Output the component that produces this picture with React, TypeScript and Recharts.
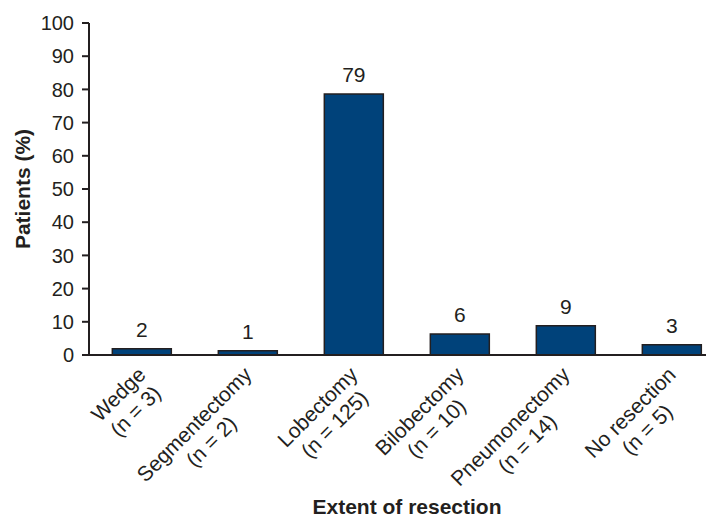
import React from 'react';
import { BarChart, Bar, XAxis, YAxis, LabelList } from 'recharts';

// extent of resection, n per group, % of patients (bar heights) and printed labels
const categories = ['Wedge', 'Segmentectomy', 'Lobectomy', 'Bilobectomy', 'Pneumonectomy', 'No resection'];
const counts = [3, 2, 125, 10, 14, 5];
const percents = [1.9, 1.3, 78.6, 6.3, 8.8, 3.1];
const percentLabels = ['2', '1', '79', '6', '9', '3'];
const yTicks = [0, 10, 20, 30, 40, 50, 60, 70, 80, 90, 100];

const data = categories.map((name, i) => ({
  name,
  value: percents[i],
  label: percentLabels[i],
}));

const INK = '#231f20';
const BLUE = '#00427a';
const FONT = '"Liberation Sans", Arial, Helvetica, sans-serif';
const TICK_FS = 20;
const X_TICK_FS = 21;

const ctx = typeof document !== 'undefined' ? document.createElement('canvas').getContext('2d') : null;
function textWidth(s: string, size: number) {
  if (!ctx) return s.length * size * 0.55;
  ctx.font = `${size}px ${FONT}`;
  return ctx.measureText(s).width;
}

// two-line rotated category label, lines centred, block ending at the bar centre
const XTick = (props: any) => {
  const { x, payload } = props;
  const i = categories.indexOf(payload.value);
  const lines = [payload.value, `(n = ${counts[i]})`];
  const w = Math.max(...lines.map((l) => textWidth(l, X_TICK_FS)));
  const lh = X_TICK_FS * 1.15;
  return (
    <g transform={`translate(${x - 7},${356}) rotate(-45)`}>
      {lines.map((l, k) => (
        <text
          key={k}
          x={-w / 2}
          y={X_TICK_FS * 0.8 + k * lh}
          textAnchor="middle"
          fill={INK}
          fontSize={X_TICK_FS}
          fontFamily={FONT}
        >
          {l}
        </text>
      ))}
    </g>
  );
};

export default function App() {
  return (
    <div style={{ width: 706, height: 511, overflow: 'hidden' }}>
      <BarChart
        width={730}
        height={511}
        data={data}
        margin={{ top: 15, right: 13, left: 0, bottom: 0 }}
        barCategoryGap="22%"
      >
        <XAxis
          dataKey="name"
          height={164}
          axisLine={{ stroke: INK, strokeWidth: 2 }}
          tickLine={false}
          interval={0}
          tick={<XTick />}
          label={{
            value: 'Extent of resection',
            position: 'insideBottom',
            offset: 5,
            style: { fontFamily: FONT, fontWeight: 'bold', fontSize: 21, fill: INK },
          }}
        />
        <YAxis
          width={81}
          domain={[0, 100]}
          ticks={yTicks}
          interval={0}
          tickSize={7}
          tickMargin={8}
          axisLine={{ stroke: INK, strokeWidth: 2 }}
          tickLine={{ stroke: INK, strokeWidth: 2 }}
          tick={{ fill: INK, fontSize: TICK_FS, fontFamily: FONT }}
          label={{
            value: 'Patients (%)',
            angle: -90,
            position: 'center',
            dx: -26,
            style: { fontFamily: FONT, fontWeight: 'bold', fontSize: 21, fill: INK },
          }}
        />
        <Bar dataKey="value" fill={BLUE} stroke={INK} strokeWidth={1.5} isAnimationActive={false}>
          <LabelList
            dataKey="label"
            position="top"
            offset={12}
            fill={INK}
            fontSize={21}
            fontFamily={FONT}
          />
        </Bar>
      </BarChart>
    </div>
  );
}
